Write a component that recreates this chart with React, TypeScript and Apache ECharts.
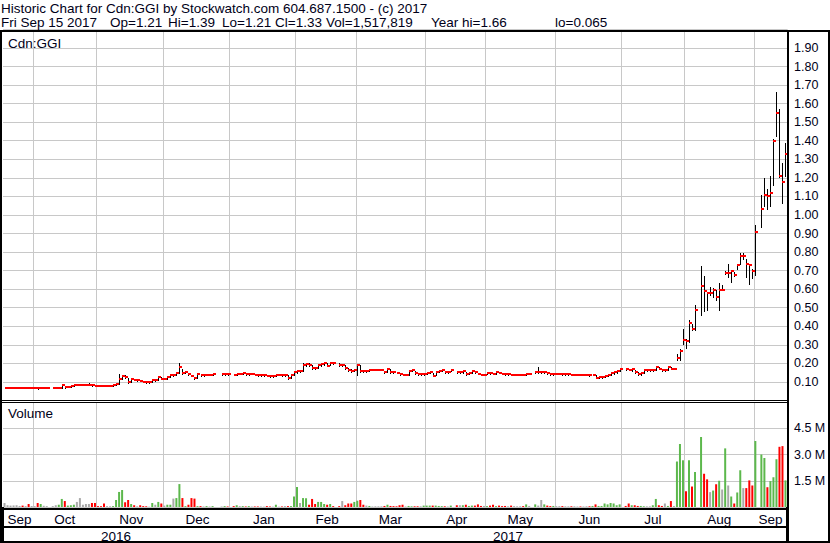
import { useEffect, useRef } from 'react';
import * as echarts from 'echarts';

// ---- categories: weekdays per month (holidays kept as empty slots) ----
const monthNames = ['Sep', 'Oct', 'Nov', 'Dec', 'Jan', 'Feb', 'Mar', 'Apr', 'May', 'Jun', 'Jul', 'Aug', 'Sep'];
const monthDays = [10, 21, 22, 22, 22, 20, 23, 20, 23, 22, 21, 23, 11];
const yearNames = ['2016', '2017'];
const yearMonthCounts = [4, 9];

// ---- daily data (price in $, volume in millions) ----
const closes: (number | null)[] = [
  0.07, 0.07, 0.07, 0.07, 0.07, 0.07, 0.068, 0.068, 0.066, 0.066,
  0.066, 0.065, 0.067, 0.067, 0.067, null, 0.067, 0.067, 0.07, 0.083, 0.072, 0.075, 0.078, 0.085, 0.085, 0.085, 0.085, 0.085, 0.085, 0.082, 0.08,
  0.079, 0.078, 0.077, 0.077, 0.077, 0.081, 0.089, 0.118, 0.133, 0.127, 0.098, 0.115, 0.11, 0.11, 0.105, 0.1, 0.098, 0.098, 0.11, 0.11, 0.127, 0.118,
  0.118, 0.128, 0.135, 0.135, 0.15, 0.178, 0.15, 0.155, 0.145, 0.133, 0.122, 0.142, 0.136, 0.136, 0.138, 0.138, 0.142, null, null, 0.142, 0.145, 0.142,
  null, 0.14, 0.145, 0.145, 0.147, 0.142, 0.145, 0.145, 0.14, 0.136, 0.136, 0.136, 0.133, 0.131, 0.131, 0.138, 0.138, 0.135, 0.135, 0.12, 0.135, 0.156,
  0.16, 0.16, 0.19, 0.196, 0.19, 0.175, 0.173, 0.19, 0.196, 0.2, 0.187, 0.204, 0.2, null, 0.19, 0.19, 0.175, 0.167, 0.16, 0.167,
  0.19, 0.16, 0.158, 0.158, 0.167, 0.167, 0.167, 0.167, 0.167, 0.153, 0.17, 0.153, 0.151, 0.15, 0.145, 0.138, 0.138, 0.16, 0.165, 0.149, 0.142, 0.142, 0.145,
  0.149, 0.152, 0.133, 0.156, 0.16, 0.164, 0.153, 0.153, 0.165, null, 0.151, 0.151, 0.16, 0.142, 0.15, 0.158, 0.153, 0.145, 0.138, 0.138,
  0.149, 0.147, 0.145, 0.153, 0.15, 0.145, 0.142, 0.142, 0.14, 0.14, 0.14, 0.14, 0.138, 0.145, 0.145, null, 0.153, 0.153, 0.153, 0.155, 0.149, 0.142, 0.145,
  0.145, 0.145, 0.142, 0.142, 0.142, 0.14, 0.14, 0.14, 0.138, 0.138, 0.138, 0.136, 0.138, 0.122, 0.125, 0.127, 0.13, 0.135, 0.148, 0.152, 0.16, 0.17,
  null, 0.168, 0.165, 0.168, 0.154, 0.141, 0.15, 0.163, 0.163, 0.163, 0.165, 0.179, 0.172, 0.163, 0.163, 0.179, 0.172, 0.172, 0.229, 0.267, 0.324,
  0.32, 0.42, 0.384, 0.486, null, 0.617, 0.59, 0.579, 0.579, 0.594, 0.558, 0.594, 0.594, 0.687, 0.687, 0.698, 0.676, 0.732, 0.779, 0.779, 0.734, 0.73, 0.698,
  0.91, null, 1.03, 1.11, 1.1, 1.12, 1.4, 1.55, 1.21, 1.18, 1.33,
];

const highs: (number | null)[] = [
  0.072, 0.07, 0.072, 0.07, 0.07, 0.072, 0.07, 0.068, 0.068, 0.066,
  0.068, 0.067, 0.068, 0.067, 0.068, null, 0.068, 0.067, 0.072, 0.085, 0.08, 0.078, 0.08, 0.087, 0.087, 0.086, 0.087, 0.087, 0.095, 0.087, 0.082,
  0.08, 0.079, 0.079, 0.078, 0.078, 0.083, 0.09, 0.142, 0.135, 0.135, 0.12, 0.118, 0.117, 0.112, 0.11, 0.105, 0.1, 0.1, 0.112, 0.113, 0.13, 0.127,
  0.12, 0.13, 0.137, 0.138, 0.152, 0.2, 0.17, 0.157, 0.15, 0.14, 0.127, 0.143, 0.142, 0.138, 0.14, 0.14, 0.143, null, null, 0.143, 0.146, 0.145,
  null, 0.142, 0.147, 0.147, 0.15, 0.147, 0.147, 0.147, 0.145, 0.14, 0.138, 0.138, 0.136, 0.134, 0.133, 0.14, 0.14, 0.138, 0.137, 0.135, 0.137, 0.16,
  0.165, 0.162, 0.2, 0.2, 0.2, 0.19, 0.178, 0.192, 0.2, 0.203, 0.2, 0.207, 0.205, null, 0.2, 0.192, 0.19, 0.175, 0.168, 0.17,
  0.196, 0.19, 0.162, 0.16, 0.17, 0.168, 0.17, 0.168, 0.17, 0.16, 0.172, 0.17, 0.155, 0.153, 0.15, 0.145, 0.14, 0.162, 0.167, 0.16, 0.15, 0.145, 0.148,
  0.152, 0.155, 0.15, 0.158, 0.162, 0.166, 0.16, 0.155, 0.167, null, 0.155, 0.16, 0.162, 0.155, 0.152, 0.16, 0.158, 0.15, 0.145, 0.14,
  0.152, 0.15, 0.15, 0.155, 0.155, 0.15, 0.146, 0.15, 0.145, 0.145, 0.143, 0.142, 0.142, 0.148, 0.148, null, 0.16, 0.182, 0.156, 0.158, 0.155, 0.146, 0.148,
  0.148, 0.147, 0.145, 0.145, 0.144, 0.142, 0.142, 0.142, 0.14, 0.14, 0.14, 0.138, 0.14, 0.135, 0.128, 0.13, 0.132, 0.14, 0.15, 0.155, 0.163, 0.172,
  null, 0.172, 0.17, 0.17, 0.165, 0.155, 0.152, 0.165, 0.165, 0.165, 0.167, 0.182, 0.18, 0.172, 0.165, 0.18, 0.18, 0.175, 0.253, 0.28, 0.384,
  0.333, 0.432, 0.414, 0.513, null, 0.723, 0.671, 0.586, 0.612, 0.606, 0.594, 0.631, 0.62, 0.7, 0.737, 0.7, 0.69, 0.737, 0.797, 0.797, 0.764, 0.73, 0.71,
  0.946, null, 1.106, 1.197, 1.14, 1.21, 1.41, 1.66, 1.57, 1.28, 1.39,
];

const lows: (number | null)[] = [
  0.068, 0.068, 0.07, 0.068, 0.068, 0.07, 0.066, 0.066, 0.065, 0.065,
  0.065, 0.064, 0.065, 0.066, 0.066, null, 0.066, 0.066, 0.067, 0.07, 0.07, 0.072, 0.075, 0.08, 0.083, 0.084, 0.083, 0.084, 0.084, 0.08, 0.079,
  0.078, 0.077, 0.076, 0.076, 0.076, 0.077, 0.082, 0.09, 0.118, 0.12, 0.095, 0.1, 0.108, 0.107, 0.103, 0.098, 0.095, 0.096, 0.1, 0.107, 0.11, 0.115,
  0.115, 0.118, 0.127, 0.133, 0.135, 0.15, 0.145, 0.147, 0.14, 0.13, 0.118, 0.12, 0.133, 0.133, 0.135, 0.136, 0.138, null, null, 0.14, 0.14, 0.14,
  null, 0.136, 0.14, 0.142, 0.143, 0.14, 0.14, 0.142, 0.136, 0.133, 0.133, 0.133, 0.131, 0.128, 0.128, 0.13, 0.135, 0.133, 0.13, 0.118, 0.12, 0.135,
  0.15, 0.155, 0.16, 0.185, 0.185, 0.172, 0.168, 0.175, 0.188, 0.19, 0.185, 0.19, 0.195, null, 0.186, 0.185, 0.17, 0.16, 0.155, 0.16,
  0.135, 0.155, 0.155, 0.155, 0.158, 0.163, 0.165, 0.165, 0.163, 0.15, 0.155, 0.15, 0.148, 0.147, 0.14, 0.135, 0.135, 0.14, 0.158, 0.145, 0.14, 0.14, 0.14,
  0.145, 0.148, 0.13, 0.135, 0.155, 0.16, 0.15, 0.15, 0.16, null, 0.148, 0.148, 0.15, 0.14, 0.142, 0.15, 0.15, 0.142, 0.135, 0.135,
  0.145, 0.145, 0.142, 0.145, 0.148, 0.142, 0.14, 0.14, 0.138, 0.138, 0.138, 0.137, 0.135, 0.138, 0.142, null, 0.148, 0.15, 0.15, 0.15, 0.145, 0.14, 0.14,
  0.142, 0.142, 0.14, 0.14, 0.14, 0.138, 0.138, 0.138, 0.135, 0.135, 0.135, 0.133, 0.135, 0.12, 0.12, 0.123, 0.125, 0.13, 0.135, 0.145, 0.15, 0.158,
  null, 0.163, 0.162, 0.16, 0.15, 0.14, 0.14, 0.15, 0.16, 0.16, 0.16, 0.165, 0.17, 0.16, 0.16, 0.163, 0.168, 0.17, 0.217, 0.217, 0.303,
  0.283, 0.315, 0.378, 0.378, null, 0.46, 0.482, 0.487, 0.567, 0.558, 0.54, 0.49, 0.594, 0.68, 0.665, 0.638, 0.67, 0.71, 0.737, 0.76, 0.665, 0.63, 0.662,
  0.676, null, 0.937, 1.05, 1.03, 1.05, 1.16, 1.425, 1.205, 1.062, 1.21,
];

const volumes: (number | null)[] = [
  0.23, 0.1, 0.08, 0.09, 0.1, 0.06, 0.08, 0.05, 0.17, 0.06,
  0.05, 0.23, 0.17, 0.07, 0.05, null, 0.05, 0.1, 0.13, 0.46, 0.34, 0.08, 0.1, 0.13, 0.29, 0.51, 0.13, 0.17, 0.17, 0.23, 0.23,
  0.05, 0.05, 0.2, 0.05, 0.04, 0.05, 0.4, 0.86, 0.97, 0.27, 0.4, 0.17, 0.1, 0.04, 0.1, 0.05, 0.04, 0.02, 0.23, 0.13, 0.29, 0.2,
  0.08, 0.13, 0.13, 0.48, 0.51, 1.31, 0.51, 0.05, 0.13, 0.51, 0.48, 0.05, 0.05, 0.03, 0.05, 0.03, 0.05, null, null, 0.03, 0.05, 0.03,
  null, 0.05, 0.1, 0.05, 0.05, 0.03, 0.05, 0.03, 0.03, 0.03, 0.03, 0.02, 0.05, 0.03, 0.02, 0.13, 0.02, 0.03, 0.05, 0.05, 0.05, 0.6,
  1.15, 0.23, 0.51, 0.5, 0.13, 0.46, 0.17, 0.29, 0.29, 0.17, 0.13, 0.17, 0.05, null, 0.05, 0.34, 0.1, 0.2, 0.2, 0.29,
  0.36, 0.4, 0.13, 0.08, 0.06, 0.03, 0.04, 0.04, 0.04, 0.06, 0.13, 0.06, 0.05, 0.04, 0.1, 0.13, 0.03, 0.06, 0.04, 0.04, 0.04, 0.04, 0.08,
  0.08, 0.08, 0.08, 0.08, 0.06, 0.05, 0.04, 0.03, 0.08, null, 0.1, 0.1, 0.1, 0.13, 0.06, 0.08, 0.08, 0.15, 0.06, 0.06,
  0.05, 0.08, 0.13, 0.05, 0.08, 0.05, 0.06, 0.04, 0.08, 0.05, 0.04, 0.04, 0.05, 0.15, 0.06, null, 0.15, 0.08, 0.4, 0.15, 0.08, 0.05, 0.06,
  0.05, 0.05, 0.05, 0.04, 0.04, 0.04, 0.04, 0.03, 0.03, 0.03, 0.04, 0.04, 0.06, 0.15, 0.06, 0.06, 0.2, 0.15, 0.23, 0.2, 0.1, 0.15,
  null, 0.06, 0.2, 0.1, 0.1, 0.06, 0.06, 0.04, 0.04, 0.04, 0.1, 0.46, 0.1, 0.06, 0.2, 0.06, 0.34, 0.06, 2.6, 3.6, 2.67,
  0.9, 2.67, 1.17, 2.0, null, 4.0, 1.9, 1.58, 0.85, 0.94, 1.3, 1.5, 1.0, 3.35, 1.23, 0.6, 0.2, 0.83, 2.1, 1.08, 1.08, 1.52, 1.23,
  3.77, null, 3.0, 2.8, 1.13, 1.48, 1.7, 2.73, 3.44, 3.48, 1.52,
];

const titleLine1 = 'Historic Chart for Cdn:GGI by Stockwatch.com 604.687.1500 - (c) 2017';
const titleLine2 = ['Fri Sep 15 2017', 'Op=1.21', 'Hi=1.39', 'Lo=1.21', 'Cl=1.33', 'Vol=1,517,819', 'Year hi=1.66', 'lo=0.065'];
const symbolLabel = 'Cdn:GGI';
const volumeLabel = 'Volume';

const FONT = '"Liberation Sans", Arial, Helvetica, sans-serif';
const TEXT = '#000018';
const GRID = '#c8c8c8';
const UP = '#5cb84c';
const DOWN = '#ff0000';
const FLAT = '#a9a9a9';

export default function App() {
  const ref = useRef<HTMLDivElement>(null);

  useEffect(() => {
    const chart = echarts.init(ref.current as HTMLDivElement, null, { renderer: 'svg' });

    const categories: string[] = [];
    const monthStart = new Set<number>();
    const monthMid = new Map<number, string>();
    let idx = 0;
    monthNames.forEach((m, k) => {
      monthStart.add(idx);
      monthMid.set(idx + Math.floor(monthDays[k] / 2), m);
      for (let d = 0; d < monthDays[k]; d++) categories.push(`${m}-${k}-${d + 1}`);
      idx += monthDays[k];
    });
    const yearMid = new Map<number, string>();
    const yearStart: number[] = [];
    let mi = 0;
    let di = 0;
    yearNames.forEach((y, k) => {
      let len = 0;
      for (let j = 0; j < yearMonthCounts[k]; j++) len += monthDays[mi + j];
      yearStart.push(di);
      yearMid.set(di + Math.floor(len / 2), y);
      di += len;
      mi += yearMonthCounts[k];
    });
    const janIdx = yearStart[1];

    const ohlc: number[][] = [];
    closes.forEach((c, i) => {
      if (c != null) ohlc.push([i, highs[i] as number, lows[i] as number, c]);
    });

    let prev: number | null = null;
    const volData = volumes.map((v, i) => {
      const c = closes[i];
      if (v == null || c == null) return '-';
      let color = FLAT;
      if (prev != null) color = c > prev + 1e-9 ? UP : c < prev - 1e-9 ? DOWN : FLAT;
      prev = c;
      return { value: v, itemStyle: { color } };
    });

    const splitInterval = (i: number) => i > 0 && monthStart.has(i);
    const lineSegX = [1, 110, 168, 222, 275, 326, 431, 555];

    const rect = (x: number, y: number, w: number, h: number) => ({
      type: 'rect', z: 100, silent: true,
      shape: { x, y, width: w, height: h },
      style: { fill: '#000' },
    });
    const text = (t: string, x: number, y: number, size = 13.5) => ({
      type: 'text', z: 100, silent: true, x, y,
      style: { text: t, font: `${size}px ${FONT}`, fill: TEXT, textVerticalAlign: 'middle', textAlign: 'left' },
    });

    chart.setOption({
      animation: false,
      backgroundColor: '#ffffff',
      grid: [
        { left: 3, right: 43, top: 29.4, height: 371.1 },
        { left: 3, right: 43, top: 402, height: 105 },
      ],
      xAxis: [
        {
          type: 'category', gridIndex: 0, data: categories, boundaryGap: true,
          axisLine: { show: false }, axisTick: { show: false }, axisLabel: { show: false },
          splitLine: { show: true, interval: splitInterval, lineStyle: { color: GRID, width: 1 } },
        },
        {
          type: 'category', gridIndex: 1, data: categories, boundaryGap: true,
          axisLine: { show: false },
          axisTick: { show: true, interval: (i: number) => i === janIdx, length: 34, lineStyle: { color: '#000', width: 2 } },
          axisLabel: {
            show: true, interval: (i: number) => monthMid.has(i),
            formatter: (_v: string, i: number) => monthMid.get(i) || '',
            margin: 5, fontSize: 13.5, fontFamily: FONT, color: TEXT,
          },
          splitLine: { show: true, interval: splitInterval, lineStyle: { color: GRID, width: 1 } },
        },
        {
          type: 'category', gridIndex: 1, data: categories, boundaryGap: true, position: 'bottom', offset: 17,
          axisLine: { show: false }, axisTick: { show: false }, splitLine: { show: false },
          axisLabel: {
            show: true, interval: (i: number) => yearMid.has(i),
            formatter: (_v: string, i: number) => yearMid.get(i) || '',
            margin: 5, fontSize: 13.5, fontFamily: FONT, color: TEXT,
          },
        },
      ],
      yAxis: [
        {
          type: 'value', gridIndex: 0, position: 'right', min: 0, max: 2, interval: 0.1,
          axisLine: { show: false }, axisTick: { show: false },
          splitLine: { show: true, lineStyle: { color: GRID, width: 1 } },
          axisLabel: {
            formatter: (v: number) => (v < 0.05 || v > 1.95 ? '' : v.toFixed(2)),
            margin: 7, fontSize: 12.5, fontFamily: FONT, color: TEXT, align: 'left',
          },
        },
        {
          type: 'value', gridIndex: 1, position: 'right', min: 0, max: 6, interval: 1.5,
          axisLine: { show: false }, axisTick: { show: false },
          splitLine: { show: true, lineStyle: { color: GRID, width: 1 } },
          axisLabel: {
            formatter: (v: number) => (v <= 0 || v >= 6 ? '' : v.toFixed(1) + ' M'),
            margin: 7, fontSize: 12.5, fontFamily: FONT, color: TEXT, align: 'left',
          },
        },
      ],
      series: [
        {
          type: 'custom', xAxisIndex: 0, yAxisIndex: 0, data: ohlc, z: 5,
          encode: { x: 0, y: [1, 2, 3] },
          renderItem: (_p: any, api: any) => {
            const i = api.value(0);
            const hi = api.coord([i, api.value(1)]);
            const lo = api.coord([i, api.value(2)]);
            const cl = api.coord([i, api.value(3)]);
            const x = Math.round(cl[0]);
            const top = Math.round(hi[1]);
            const bot = Math.round(lo[1]);
            return {
              type: 'group',
              children: [
                { type: 'rect', shape: { x, y: top, width: 1, height: Math.max(1, bot - top + 1) }, style: { fill: '#000' } },
                { type: 'rect', shape: { x, y: Math.round(cl[1]) - 1, width: 3, height: 2 }, style: { fill: DOWN } },
              ],
            };
          },
        },
        {
          type: 'bar', xAxisIndex: 1, yAxisIndex: 1, data: volData, barWidth: 2, z: 5,
        },
      ],
      graphic: [
        text(titleLine1, 1, 8),
        ...titleLine2.map((t, k) => text(t, lineSegX[k], 22)),
        text(symbolLabel, 8, 43),
        text(volumeLabel, 8, 413),
        rect(0, 30, 830, 2),
        rect(0, 30, 2, 513),
        rect(828, 30, 2, 513),
        rect(787, 30, 2, 513),
        rect(0, 400, 789, 1),
        rect(0, 402, 789, 1),
        rect(0, 508, 789, 2),
        rect(0, 526, 789, 2),
        rect(0, 541, 830, 2),
      ],
    });

    return () => chart.dispose();
  }, []);

  return <div ref={ref} style={{ position: 'absolute', left: 0, top: 0, width: 830, height: 543 }} />;
}
